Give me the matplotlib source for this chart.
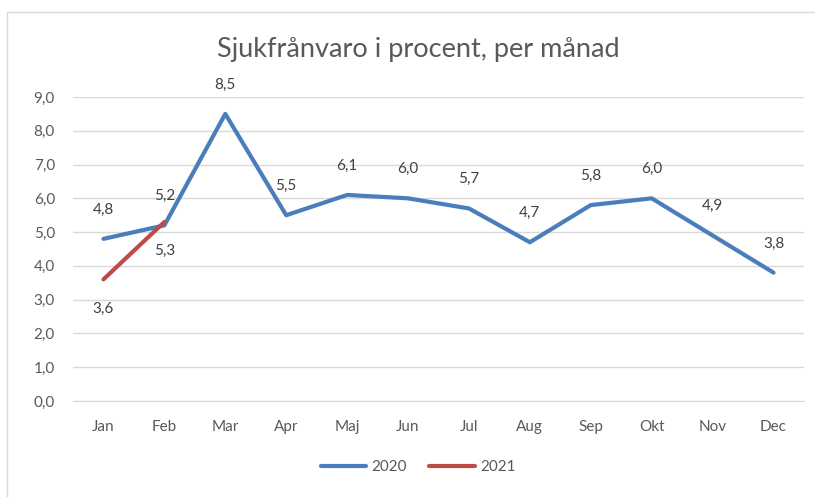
import matplotlib.pyplot as plt
from matplotlib.patches import Rectangle

plt.rcParams['font.family'] = ['Lato', 'DejaVu Sans']

months = ['Jan', 'Feb', 'Mar', 'Apr', 'Maj', 'Jun', 'Jul', 'Aug', 'Sep', 'Okt', 'Nov', 'Dec']
v2020 = [4.8, 5.2, 8.5, 5.5, 6.1, 6.0, 5.7, 4.7, 5.8, 6.0, 4.9, 3.8]
v2021 = [3.6, 5.3]

blue = '#4a7ebb'
red = '#be4b48'
grey = '#595959'

fig = plt.figure(figsize=(8.15, 4.97), dpi=100)
fig.patches.append(Rectangle((7 / 815, -0.1), 1.1, 1 - 12 / 497 + 0.1, transform=fig.transFigure,
                             fill=False, edgecolor='#d9d9d9', linewidth=1))
ax = fig.add_axes([73 / 815, 1 - 401 / 497, 731 / 815, 304 / 497])

x = list(range(len(months)))
ax.plot(x, v2020, color=blue, lw=3, solid_capstyle='round', label='2020', zorder=3)
ax.plot(x[:len(v2021)], v2021, color=red, lw=3, solid_capstyle='round', label='2021', zorder=3)

for i, v in enumerate(v2020):
    ax.annotate(f'{v:.1f}'.replace('.', ','), (i, v), xytext=(0, 21), textcoords='offset points',
                ha='center', va='center', fontsize=11, color='#404040')
for i, v in enumerate(v2021):
    ax.annotate(f'{v:.1f}'.replace('.', ','), (i, v), xytext=(0, -21), textcoords='offset points',
                ha='center', va='center', fontsize=11, color='#404040')

ax.set_xlim(-0.5, 11.5)
ax.set_ylim(0, 9)
ax.set_yticks([i for i in range(10)])
ax.set_yticklabels([f'{i},0' for i in range(10)])
ax.set_xticks(x)
ax.set_xticklabels(months)
ax.tick_params(length=0, labelsize=11, labelcolor=grey)
ax.tick_params(axis='x', pad=14)
ax.tick_params(axis='y', pad=13)
ax.grid(axis='y', color='#d9d9d9', lw=1)
ax.set_axisbelow(True)
for s in ax.spines.values():
    s.set_visible(False)
ax.spines['bottom'].set_visible(True)
ax.spines['bottom'].set_color('#d9d9d9')

fig.text(418 / 815, 1 - 50 / 497, 'Sjukfrånvaro i procent, per månad', ha='center', va='center',
         fontsize=19.5, color=grey)
fig.legend(loc='center', bbox_to_anchor=(418 / 815, 1 - 467 / 497), ncol=2, frameon=False,
           fontsize=11, labelcolor=grey, handlelength=3, columnspacing=1.5, handletextpad=0.3)

fig.savefig('out.png', dpi=100)
